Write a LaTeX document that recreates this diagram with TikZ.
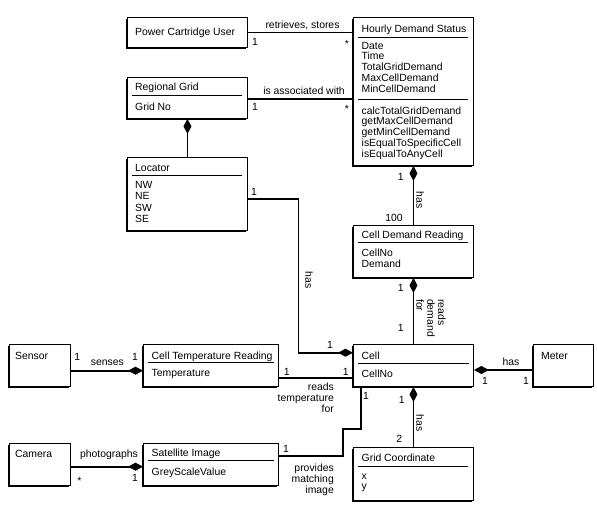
\documentclass[tikz,border=0pt]{standalone}
\usepackage{fontspec}
\setmainfont{Liberation Sans}
\usetikzlibrary{arrows.meta,shadows}

\tikzset{
  classbox/.style={draw, line width=0.9pt, fill=white, inner sep=0pt, anchor=north west,
    drop shadow={shadow xshift=-1.2pt, shadow yshift=-1.8pt, fill=black, opacity=1}},
  member/.style={inner sep=0pt, anchor=base west},
  divider/.style={line width=0.9pt},
  link/.style={line width=1.8pt},
  whole/.style={link, arrows={Diamond[length=15pt,width=8pt]-}},
  wholeend/.style={link, arrows={-Diamond[length=15pt,width=8pt]}},
  mult/.style={inner sep=0pt, anchor=base},
  rot/.style={inner sep=0pt, rotate=-90},
}

\begin{document}
\begin{tikzpicture}[x=1pt, y=-1pt, font=\fontsize{10.4}{10.9}\selectfont]
    \useasboundingbox (0,0) rectangle (597,512);

    % classes
    \node[classbox, minimum width=120pt, minimum height=30pt] (pcu) at (127,17) {};
    \node[member] (pcu-name) at (135,35) {Power Cartridge User};

    \node[classbox, minimum width=120pt, minimum height=148pt] (hds) at (353,17) {};
    \node[member] (hds-name) at (361.5,32.5) {Hourly Demand Status};
    \draw[divider] (358,37) -- (468,37);
    \foreach \attr [count=\i] in {Date,Time,TotalGridDemand,MaxCellDemand,MinCellDemand}
        \node[member] (hds-attr\i) at (361.5,{38.1+10.9*\i}) {\attr};
    \draw[divider] (358,99.3) -- (468,99.3);
    \foreach \op [count=\i] in {calcTotalGridDemand,getMaxCellDemand,getMinCellDemand,isEqualToSpecificCell,isEqualToAnyCell}
        \node[member] (hds-op\i) at (361.5,{103.1+10.9*\i}) {\op};

    \node[classbox, minimum width=120pt, minimum height=41pt] (rg) at (127,77) {};
    \node[member] (rg-name) at (135,90.5) {Regional Grid};
    \draw[divider] (132,95.7) -- (242,95.7);
    \node[member] (rg-attr) at (135,110.5) {Grid No};

    \node[classbox, minimum width=120pt, minimum height=73pt] (loc) at (127,157) {};
    \node[member] (loc-name) at (135,171.5) {Locator};
    \draw[divider] (132,175) -- (242,175);
    \foreach \attr [count=\i] in {NW,NE,SW,SE}
        \node[member] (loc-attr\i) at (135,{176.9+11.4*\i}) {\attr};

    \node[classbox, minimum width=120pt, minimum height=52pt] (cdr) at (353,225) {};
    \node[member] (cdr-name) at (361.5,238) {Cell Demand Reading};
    \draw[divider] (358,242.7) -- (468,242.7);
    \node[member] (cdr-attr1) at (361.5,256.7) {CellNo};
    \node[member] (cdr-attr2) at (361.5,267.6) {Demand};

    \node[classbox, minimum width=61pt, minimum height=42pt] (sensor) at (9,344) {};
    \node[member] (sensor-name) at (15,359) {Sensor};

    \node[classbox, minimum width=135pt, minimum height=42pt] (ctr) at (143,344) {};
    \node[member] (ctr-name) at (151.5,359.3) {Cell Temperature Reading};
    \draw[divider] (148,362.7) -- (274,362.7);
    \node[member] (ctr-attr) at (151.5,376.5) {Temperature};

    \node[classbox, minimum width=120pt, minimum height=42pt] (cell) at (353,344) {};
    \node[member] (cell-name) at (361.5,359.3) {Cell};
    \draw[divider] (358,363) -- (469,363);
    \node[member] (cell-attr) at (361.5,377.7) {CellNo};

    \node[classbox, minimum width=60pt, minimum height=42pt] (meter) at (533,344) {};
    \node[member] (meter-name) at (541,359.3) {Meter};

    \node[classbox, minimum width=61pt, minimum height=42pt] (camera) at (9,443) {};
    \node[member] (camera-name) at (15,457.3) {Camera};

    \node[classbox, minimum width=135pt, minimum height=42pt] (sat) at (143,443) {};
    \node[member] (sat-name) at (151.5,456.8) {Satellite Image};
    \draw[divider] (148,460) -- (274,460);
    \node[member] (sat-attr) at (151.5,475.2) {GreyScaleValue};

    \node[classbox, minimum width=120pt, minimum height=53pt] (gc) at (353,447) {};
    \node[member] (gc-name) at (361.5,461.7) {Grid Coordinate};
    \draw[divider] (358,466) -- (468,466);
    \node[member] (gc-attr1) at (361.5,479) {x};
    \node[member] (gc-attr2) at (361.5,489.8) {y};

    % associations
    \draw[link] (pcu.east |- 0,32.5) -- (hds.west |- 0,32.5);
    \draw[link] (rg.east |- 0,99.3) -- (hds.west |- 0,99.3);
    \draw[whole] (rg.south) -- (loc.north);
    \draw[wholeend] (loc.east |- 0,199) -| (298.5,352.7) -- (cell.west |- 0,352.7);
    \draw[whole] (hds.south) -- (cdr.north);
    \draw[whole] (cdr.south) -- (cell.north);
    \draw[whole] (cell.south) -- (gc.north);
    \draw[wholeend] (sensor.east |- 0,370.7) -- (ctr.west |- 0,370.7);
    \draw[link] (ctr.east |- 0,378) -- (cell.west |- 0,378);
    \draw[whole] (cell.east |- 0,370) -- (meter.west |- 0,370);
    \draw[wholeend] (camera.east |- 0,466.7) -- (sat.west |- 0,466.7);
    \draw[link] (sat.east |- 0,456) -| (343,429) -| (cell.south -| 361,0);

    % labels and multiplicities
    \node[mult] (pcu-hds-lbl) at (302.5,28.5) {retrieves, stores};
    \node[mult] (pcu-m) at (255,45.7) {1};
    \node[mult] (hds-m1) at (347,47.5) {*};
    \node[mult] (rg-hds-lbl) at (304,94) {is associated with};
    \node[mult] (rg-m) at (255,110.5) {1};
    \node[mult] (hds-m2) at (347,112.3) {*};
    \node[mult] (loc-m) at (254,195) {1};
    \node[rot] (loc-cell-lbl) at (309,280) {has};
    \node[mult] (cell-m1) at (330,348.3) {1};
    \node[mult] (hds-m3) at (400.7,180) {1};
    \node[rot] (hds-cdr-lbl) at (420,200) {has};
    \node[mult] (cdr-m1) at (394,221.7) {100};
    \node[mult] (cdr-m2) at (400.7,291.7) {1};
    \node[rot, align=left] (cdr-cell-lbl) at (431,318) {reads\\demand\\for};
    \node[mult] (cell-m2) at (400.7,331.7) {1};
    \node[mult] (sensor-m) at (77.3,360.7) {1};
    \node[mult] (sensor-lbl) at (107.3,365) {senses};
    \node[mult] (ctr-m1) at (135,360.7) {1};
    \node[mult] (ctr-m2) at (286.7,375.7) {1};
    \node[mult] (cell-m3) at (345.7,375.7) {1};
    \node[inner sep=0pt, anchor=north east, align=right] (ctr-cell-lbl) at (334,382.5) {reads\\temperature\\for};
    \node[mult] (sat-m1) at (286,452.3) {1};
    \node[mult] (cell-m4) at (366,399) {1};
    \node[inner sep=0pt, anchor=north east, align=right] (sat-cell-lbl) at (334,463.7) {provides\\matching\\image};
    \node[mult] (cell-m5) at (401.7,403.3) {1};
    \node[rot] (cell-gc-lbl) at (420,423) {has};
    \node[mult] (gc-m) at (399.3,442.7) {2};
    \node[mult] (meter-lbl) at (511,365) {has};
    \node[mult] (cell-m6) at (485,384) {1};
    \node[mult] (meter-m) at (526,384) {1};
    \node[mult] (camera-lbl) at (109,457.5) {photographs};
    \node[mult] (camera-m) at (79.3,484) {*};
    \node[mult] (sat-m2) at (135,481.7) {1};
\end{tikzpicture}
\end{document}
